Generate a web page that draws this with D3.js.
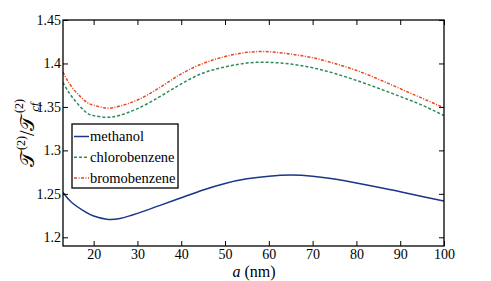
<!DOCTYPE html>
<html>
<head>
<meta charset="utf-8">
<script src="https://cdn.jsdelivr.net/npm/d3@7"></script>
<style>
  body { margin: 0; background: #fff; }
</style>
</head>
<body>
<script>
// sampled particle sizes a (nm)
var aValues = [13, 15, 18, 20, 23, 26, 30, 35, 40, 45, 50, 55, 60, 65, 70, 75, 80, 85, 90, 95, 100];
var methanol = [1.2515, 1.240, 1.2295, 1.2245, 1.2207, 1.2217, 1.2275, 1.2365, 1.2455, 1.2545, 1.2620, 1.2673, 1.2703, 1.2716, 1.2703, 1.2670, 1.2625, 1.2575, 1.2525, 1.2470, 1.2418];
var chlorobenzene = [1.378, 1.362, 1.345, 1.340, 1.338, 1.3405, 1.348, 1.3615, 1.3765, 1.389, 1.396, 1.4005, 1.4013, 1.3993, 1.395, 1.3885, 1.3805, 1.3715, 1.362, 1.352, 1.340];
var bromobenzene = [1.390, 1.373, 1.357, 1.352, 1.3486, 1.351, 1.358, 1.372, 1.388, 1.400, 1.408, 1.4128, 1.4135, 1.4108, 1.4066, 1.400, 1.392, 1.382, 1.371, 1.360, 1.349];
var seriesNames = ["methanol", "chlorobenzene", "bromobenzene"];
var xTicks = [20, 30, 40, 50, 60, 70, 80, 90, 100];
var yTicks = [1.2, 1.25, 1.3, 1.35, 1.4, 1.45];
var yTickLabels = ["1.2", "1.25", "1.3", "1.35", "1.4", "1.45"];

var SERIF = "'Liberation Serif'";
var width = 491, height = 281;
var m = {top: 20, right: 47, bottom: 35, left: 63};
var w = width - m.left - m.right, h = height - m.top - m.bottom;

var svg = d3.select("body").append("svg")
    .attr("width", width)
    .attr("height", height);

var x = d3.scaleLinear().domain([13, 100]).range([0, w]);
var y = d3.scaleLinear().domain([1.19, 1.45]).range([h, 0]);

var g = svg.append("g").attr("transform", "translate(" + m.left + "," + m.top + ")");

var styles = [
    {color: "#1b3587", dash: null},
    {color: "#2e8b57", dash: "3,2"},
    {color: "#e8461e", dash: "3,1.5,1,1.5"}
];
var allSeries = [methanol, chlorobenzene, bromobenzene];

var line = d3.line()
    .x(function (d, i) { return x(aValues[i]); })
    .y(function (d) { return y(d); })
    .curve(d3.curveNatural);

g.append("defs").append("clipPath").attr("id", "clip")
    .append("rect").attr("width", w).attr("height", h);

allSeries.forEach(function (s, i) {
    g.append("path")
        .datum(s)
        .attr("clip-path", "url(#clip)")
        .attr("d", line)
        .attr("fill", "none")
        .attr("stroke", styles[i].color)
        .attr("stroke-width", 1.5)
        .attr("stroke-dasharray", styles[i].dash);
});

// axes with inward ticks, mirrored on top/right
var fmt = function (d) { return yTickLabels[yTicks.indexOf(d)]; };
var xAxis = g.append("g").attr("transform", "translate(0," + h + ")")
    .call(d3.axisBottom(x).tickValues(xTicks).tickSizeInner(-5).tickSizeOuter(0).tickPadding(3));
var xTop = g.append("g")
    .call(d3.axisTop(x).tickValues(xTicks).tickSizeInner(-5).tickSizeOuter(0).tickFormat(""));
var yAxis = g.append("g")
    .call(d3.axisLeft(y).tickValues(yTicks).tickFormat(fmt).tickSizeInner(-5).tickSizeOuter(0).tickPadding(2));
var yRight = g.append("g").attr("transform", "translate(" + w + ",0)")
    .call(d3.axisRight(y).tickValues(yTicks).tickSizeInner(-5).tickSizeOuter(0).tickFormat(""));

[xAxis, xTop, yAxis, yRight].forEach(function (a) {
    a.attr("font-family", null);
    a.select(".domain").remove();
    a.selectAll("line").attr("stroke", "#000").attr("stroke-width", 1);
    a.selectAll("text").style("font-family", SERIF).style("font-size", "14px").attr("fill", "#000");
});

g.append("rect")
    .attr("width", w).attr("height", h)
    .attr("fill", "none").attr("stroke", "#000").attr("stroke-width", 1.3);

// legend
var legend = g.append("g").attr("transform", "translate(" + (72 - m.left) + "," + (124 - m.top) + ")");
legend.append("rect")
    .attr("width", 106).attr("height", 64)
    .attr("fill", "#fff").attr("stroke", "#000").attr("stroke-width", 1.3);
seriesNames.forEach(function (name, i) {
    var ly = 12.5 + i * 20.8;
    legend.append("line")
        .attr("x1", 2).attr("x2", 17).attr("y1", ly).attr("y2", ly)
        .attr("stroke", styles[i].color).attr("stroke-width", 1.5)
        .attr("stroke-dasharray", styles[i].dash);
    legend.append("text")
        .attr("x", 18).attr("y", ly + 4.5)
        .style("font-family", SERIF)
        .style("font-size", "14.5px")
        .text(name);
});

// axis labels
var xl = svg.append("text")
    .attr("x", 254).attr("y", 277)
    .attr("text-anchor", "middle")
    .style("font-family", SERIF)
    .style("font-size", "16px");
xl.append("tspan").attr("font-style", "italic").text("a");
xl.append("tspan").text(" (nm)");

var yl = svg.append("text")
    .attr("transform", "translate(34,133) rotate(-90)")
    .attr("text-anchor", "middle")
    .style("font-family", SERIF)
    .style("font-size", "20px");
yl.append("tspan").text("\uD835\uDCAF");
yl.append("tspan").style("font-size", "12px").attr("dy", -9).attr("dx", 2).text("(2)");
yl.append("tspan").attr("dy", 9).text("/");
yl.append("tspan").text("\uD835\uDCAF");
yl.append("tspan").style("font-size", "12px").attr("font-style", "italic").attr("dy", 5).attr("dx", 4).text("cf");
yl.append("tspan").style("font-size", "12px").attr("dy", -16).attr("dx", -10).text("(2)");
</script>
</body>
</html>
